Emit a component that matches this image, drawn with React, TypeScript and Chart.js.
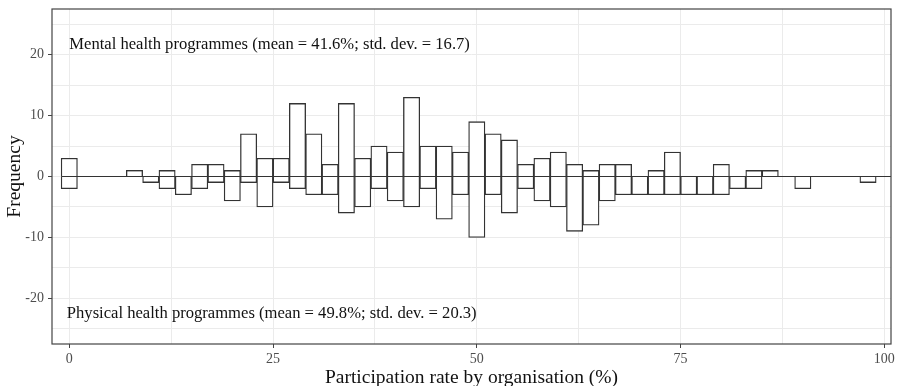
import React, { useEffect, useRef } from "react";
import { Chart, registerables } from "chart.js";

Chart.register(...registerables);

// Bin centres (participation rate, %), bin width 2
const bins: number[] = [
  0, 2, 4, 6, 8, 10, 12, 14, 16, 18, 20, 22, 24, 26, 28, 30, 32, 34, 36, 38, 40,
  42, 44, 46, 48, 50, 52, 54, 56, 58, 60, 62, 64, 66, 68, 70, 72, 74, 76, 78, 80,
  82, 84, 86, 88, 90, 92, 94, 96, 98, 100,
];

// Mental health programmes (plotted upwards)
const mentalCounts: number[] = [
  3, 0, 0, 0, 1, 0, 1, 0, 2, 2, 1, 7, 3, 3, 12, 7, 2, 12, 3, 5, 4,
  13, 5, 5, 4, 9, 7, 6, 2, 3, 4, 2, 1, 2, 2, 0, 1, 4, 0, 0, 2,
  0, 1, 1, 0, 0, 0, 0, 0, 0, 0,
];

// Physical health programmes (plotted downwards)
const physicalCounts: number[] = [
  -2, 0, 0, 0, 0, -1, -2, -3, -2, -1, -4, -1, -5, -1, -2, -3, -3, -6, -5, -2, -4,
  -5, -2, -7, -3, -10, -3, -6, -2, -4, -5, -9, -8, -4, -3, -3, -3, -3, -3, -3, -3,
  -2, -2, 0, 0, -2, 0, 0, 0, -1, 0,
];

const xTicks: number[] = [0, 12.5, 25, 37.5, 50, 62.5, 75, 87.5, 100];
const yTicks: number[] = [-25, -20, -15, -10, -5, 0, 5, 10, 15, 20, 25];

const mentalLabel = "Mental health programmes (mean = 41.6%; std. dev. = 16.7)";
const physicalLabel = "Physical health programmes (mean = 49.8%; std. dev. = 20.3)";

const SERIF = '"Liberation Serif", "Times New Roman", "DejaVu Serif", serif';

export default function App() {
  const canvasRef = useRef<HTMLCanvasElement | null>(null);

  useEffect(() => {
    document.body.style.margin = "0";
    const canvas = canvasRef.current;
    if (!canvas) return;

    const annotationPlugin = {
      id: "annotText",
      afterDatasetsDraw(chart: any) {
        const { ctx, scales } = chart;
        ctx.save();
        ctx.fillStyle = "#111111";
        ctx.font = `16.6px ${SERIF}`;
        ctx.textAlign = "left";
        ctx.textBaseline = "middle";
        ctx.fillText(mentalLabel, scales.x.getPixelForValue(0), scales.y.getPixelForValue(21.6));
        ctx.fillText(physicalLabel, scales.x.getPixelForValue(-0.3), scales.y.getPixelForValue(-22.5));
        ctx.restore();
      },
      afterDraw(chart: any) {
        const { ctx, chartArea } = chart;
        ctx.save();
        ctx.strokeStyle = "#444444";
        ctx.lineWidth = 1.2;
        ctx.strokeRect(chartArea.left, chartArea.top, chartArea.right - chartArea.left, chartArea.bottom - chartArea.top);
        ctx.restore();
      },
    };

    const barStyle = {
      backgroundColor: "#ffffff",
      borderColor: "#333333",
      borderWidth: 1.3,
      borderSkipped: "start" as const,
      barPercentage: 1,
      categoryPercentage: 1,
      grouped: false,
      order: 1,
    };

    const chart = new Chart(canvas, {
      type: "bar",
      data: {
        datasets: [
          {
            ...barStyle,
            label: "Mental",
            data: bins.map((b, i) => ({ x: b, y: mentalCounts[i] })),
          } as any,
          {
            ...barStyle,
            label: "Physical",
            data: bins.map((b, i) => ({ x: b, y: physicalCounts[i] })),
          } as any,
          {
            type: "line",
            label: "zero",
            data: [
              { x: bins[0] - 1, y: 0 },
              { x: bins[bins.length - 1] + 1, y: 0 },
            ],
            borderColor: "#333333",
            borderWidth: 1.2,
            pointRadius: 0,
            order: 0,
          } as any,
        ],
      },
      options: {
        animation: false,
        responsive: false,
        maintainAspectRatio: false,
        layout: { padding: { top: 9, right: 8, left: 0, bottom: 0 } },
        plugins: {
          legend: { display: false },
          tooltip: { enabled: false },
        },
        scales: {
          x: {
            type: "linear",
            min: -2.12,
            max: 100.82,
            offset: false,
            afterBuildTicks: (scale: any) => {
              scale.ticks = xTicks.map((v) => ({ value: v }));
            },
            afterFit: (scale: any) => {
              scale.height = 42;
              scale.paddingLeft = 0;
              scale.paddingRight = 0;
            },
            grid: {
              offset: false,
              color: "#ebebeb",
              lineWidth: 1,
              drawTicks: true,
              tickLength: 4,
              tickColor: (c: any) => (c.tick && c.tick.value % 25 === 0 ? "#444444" : "rgba(0,0,0,0)"),
              tickWidth: 1,
            },
            border: { display: false },
            ticks: {
              autoSkip: false,
              maxRotation: 0,
              padding: 3,
              color: "#4d4d4d",
              font: { family: SERIF, size: 14 },
              callback: (v: any) => (Number(v) % 25 === 0 ? String(v) : ""),
            },
            title: {
              display: true,
              text: "Participation rate by organisation (%)",
              color: "#111111",
              font: { family: SERIF, size: 19.5, lineHeight: 1 },
              padding: { top: 0, bottom: -1.5 },
            },
          },
          y: {
            type: "linear",
            min: -27.5,
            max: 27.5,
            afterBuildTicks: (scale: any) => {
              scale.ticks = yTicks.map((v) => ({ value: v }));
            },
            afterFit: (scale: any) => {
              scale.width = 52;
              scale.paddingTop = 0;
              scale.paddingBottom = 0;
            },
            grid: {
              color: "#ebebeb",
              lineWidth: 1,
              drawTicks: true,
              tickLength: 4,
              tickColor: (c: any) => (c.tick && c.tick.value % 10 === 0 ? "#444444" : "rgba(0,0,0,0)"),
              tickWidth: 1,
            },
            border: { display: false },
            ticks: {
              autoSkip: false,
              padding: 4,
              color: "#4d4d4d",
              font: { family: SERIF, size: 14 },
              callback: (v: any) => (Number(v) % 10 === 0 ? String(v) : ""),
            },
            title: {
              display: true,
              text: "Frequency",
              color: "#111111",
              font: { family: SERIF, size: 19.5, lineHeight: 1 },
              padding: { top: 5, bottom: 0 },
            },
          },
        },
      },
      plugins: [annotationPlugin],
    });

    return () => {
      chart.destroy();
    };
  }, []);

  return (
    <div style={{ position: "absolute", left: 0, top: 0, width: 899, height: 386 }}>
      <canvas ref={canvasRef} width={899} height={386} style={{ width: 899, height: 386, display: "block" }} />
    </div>
  );
}
